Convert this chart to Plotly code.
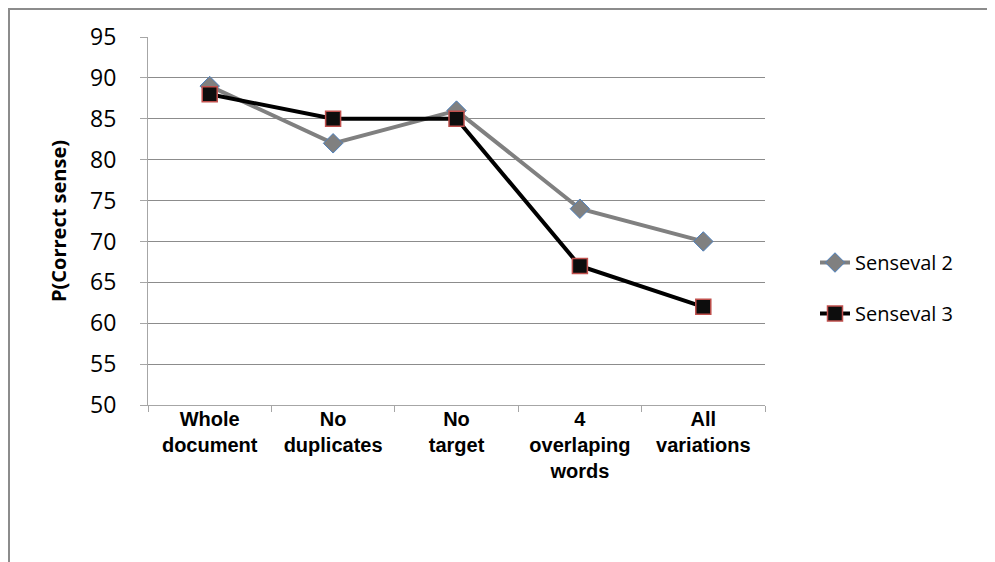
import plotly.graph_objects as go

categories = ["Whole<br>document", "No<br>duplicates", "No<br>target", "4<br>overlaping<br>words", "All<br>variations"]
senseval2 = [89, 82, 86, 74, 70]
senseval3 = [88, 85, 85, 67, 62]
y_ticks = [50, 55, 60, 65, 70, 75, 80, 85, 90, 95]

fig = go.Figure()
fig.add_trace(go.Scatter(
    x=categories, y=senseval2, name="Senseval 2", mode="lines+markers",
    legendgroup="a",
    line=dict(color="#808080", width=4),
    marker=dict(symbol="diamond", size=15, color="#808080", line=dict(color="#4f81bd", width=1)),
))
fig.add_trace(go.Scatter(
    x=categories, y=senseval3, name="Senseval 3", mode="lines+markers",
    legendgroup="b",
    line=dict(color="#000000", width=4),
    marker=dict(symbol="square", size=15, color="#0d0d0d", line=dict(color="#c0504d", width=1.5)),
))

FW, FH = 995, 562
L, T = 140, 29
W, H = 617, 368
R, B = FW - L - W, FH - T - H

def px_to_paper_x(px):
    return (px - L) / W

def px_to_paper_y(py):
    return (T + H - py) / H

fig.update_layout(
    width=FW, height=FH,
    margin=dict(l=L, r=R, t=T, b=B),
    paper_bgcolor="white", plot_bgcolor="white",
    showlegend=True,
    legend=dict(
        x=px_to_paper_x(807), y=px_to_paper_y(235), xanchor="left", yanchor="top",
        font=dict(family="Open Sans", size=20, color="#000000"),
        tracegroupgap=22, itemwidth=30, bgcolor="rgba(0,0,0,0)",
    ),
    xaxis=dict(
        type="category",
        showgrid=False,
        showline=True, linecolor="#a6a6a6", linewidth=1,
        ticks="outside", ticklen=6, tickcolor="#a6a6a6", tickson="boundaries",
        tickfont=dict(family="Liberation Sans", size=20, color="#000000", weight="bold"),
        ticklabelstandoff=-4,
        range=[-0.5, 4.5],
    ),
    yaxis=dict(
        range=[50, 95],
        tickvals=y_ticks,
        showgrid=True, gridcolor="#8c8c8c", gridwidth=1,
        showline=True, linecolor="#a6a6a6", linewidth=1,
        ticks="outside", ticklen=7, tickcolor="#a6a6a6",
        tickfont=dict(family="Open Sans", size=23, color="#000000"),
        ticklabelstandoff=19,
        zeroline=False,
        title=dict(text="P(Correct sense)", font=dict(family="Open Sans", size=20, color="#000000", weight="bold"), standoff=18),
    ),
    shapes=[
        dict(type="line", xref="paper", yref="paper",
             x0=px_to_paper_x(0), x1=px_to_paper_x(1000), y0=px_to_paper_y(1), y1=px_to_paper_y(1),
             line=dict(color="#8c8c8c", width=2)),
        dict(type="line", xref="paper", yref="paper",
             x0=px_to_paper_x(1), x1=px_to_paper_x(1), y0=px_to_paper_y(0), y1=px_to_paper_y(570),
             line=dict(color="#8c8c8c", width=2)),
    ],
)

fig.write_html("out.html")
